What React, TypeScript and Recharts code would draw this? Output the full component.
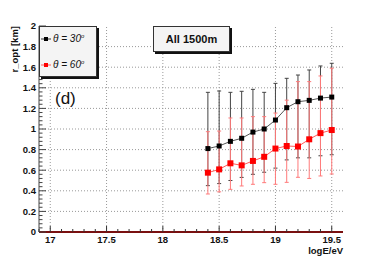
import { ComposedChart, Line, XAxis, YAxis, ErrorBar, ReferenceLine } from 'recharts'

const logE = [18.4, 18.5, 18.6, 18.7, 18.8, 18.9, 19.0, 19.1, 19.2, 19.3, 19.4, 19.5]
const r30 = [0.81, 0.835, 0.88, 0.91, 0.97, 1.0, 1.087, 1.207, 1.265, 1.278, 1.3, 1.31]
const r30Hi = [1.356, 1.369, 1.356, 1.366, 1.385, 1.356, 1.443, 1.492, 1.524, 1.573, 1.612, 1.638]
const r30Lo = [0.45, 0.47, 0.5, 0.53, 0.56, 0.58, 0.62, 0.7, 0.72, 0.72, 0.74, 0.75]
const r60 = [0.576, 0.608, 0.667, 0.647, 0.69, 0.73, 0.81, 0.835, 0.83, 0.9, 0.96, 0.99]
const r60Hi = [0.974, 0.98, 1.107, 1.107, 1.12, 1.12, 1.155, 1.28, 1.46, 1.46, 1.515, 1.59]
const r60Lo = [0.369, 0.39, 0.414, 0.447, 0.463, 0.479, 0.463, 0.482, 0.531, 0.52, 0.544, 0.563]

const xMajor = [17, 17.5, 18, 18.5, 19, 19.5]
const yMajor = [0, 0.2, 0.4, 0.6, 0.8, 1, 1.2, 1.4, 1.6, 1.8, 2]

// minor ticks: 5 per x major step, 5 per y major step
const xTicks: number[] = []
for (let i = 0; i <= 26; i++) xTicks.push(+(16.9 + i * 0.1).toFixed(2))
const yTicks: number[] = []
for (let i = 0; i <= 50; i++) yTicks.push(+(i * 0.04).toFixed(2))

const data = logE.map((x, i) => ({
  x,
  r30: r30[i],
  r60: r60[i],
  err30: [r30[i] - r30Lo[i], r30Hi[i] - r30[i]],
  err60: [r60[i] - r60Lo[i], r60Hi[i] - r60[i]],
}))

const FONT = '"Liberation Sans", Arial, sans-serif'
const MARGIN = 5

function XTick(props: any) {
  const { x, y, payload } = props
  const v = payload.value
  const major = xMajor.some((m) => Math.abs(m - v) < 1e-6)
  const ay = y - MARGIN
  return (
    <g>
      <line x1={x} x2={x} y1={ay} y2={ay - (major ? 6 : 3)} stroke="#333" />
      {major && (
        <text x={x} y={y} dy="0.6em" textAnchor="middle" fontSize={9.5} fontWeight="bold" fontFamily={FONT} fill="#111">
          {v}
        </text>
      )}
    </g>
  )
}

function YTick(props: any) {
  const { x, y, payload } = props
  const v = payload.value
  const major = yMajor.some((m) => Math.abs(m - v) < 1e-6)
  const ax = x + 3
  return (
    <g>
      <line x1={ax} x2={ax + (major ? 7 : 3.5)} y1={y} y2={y} stroke="#444" />
      {major && (
        <text x={x} y={y} dy="0.35em" textAnchor="end" fontSize={9.5} fontWeight="bold" fontFamily={FONT} fill="#111">
          {v}
        </text>
      )}
    </g>
  )
}

const square = (size: number, fill: string) => (p: any) =>
  <rect key={p.index} x={p.cx - size / 2} y={p.cy - size / 2} width={size} height={size} fill={fill} />

export default function App() {
  return (
    <div style={{ position: 'absolute', left: 0, top: 0, width: 382, height: 259, background: '#fff', fontFamily: FONT }}>
      <ComposedChart width={382} height={259} data={data} margin={{ top: 26, right: 39, bottom: 0, left: 0 }}>
        <XAxis
          dataKey="x"
          type="number"
          domain={[16.9, 19.6]}
          ticks={xTicks}
          interval={0}
          tickSize={0}
          tickMargin={MARGIN}
          tick={<XTick />}
          height={27}
          axisLine={{ stroke: '#7a1010', strokeWidth: 2 }}
          allowDataOverflow
        />
        <XAxis xAxisId="top" orientation="top" type="number" domain={[16.9, 19.6]} height={0} tick={false} tickLine={false} axisLine={{ stroke: '#999' }} />
        <YAxis
          type="number"
          domain={[0, 2]}
          ticks={yTicks}
          interval={0}
          tickSize={0}
          tickMargin={3}
          tick={<YTick />}
          width={39}
          axisLine={{ stroke: '#444' }}
        />
        <YAxis yAxisId="right" orientation="right" domain={[0, 2]} width={0} tick={false} tickLine={false} axisLine={{ stroke: '#7a1010', strokeWidth: 2 }} />
        {xMajor.map((v) => (
          <ReferenceLine key={'gx' + v} x={v} stroke="#999" strokeDasharray="1 2" />
        ))}
        {yMajor.slice(1, -1).map((v) => (
          <ReferenceLine key={'gy' + v} y={v} stroke="#999" strokeDasharray="1 2" />
        ))}
        <Line dataKey="r30" stroke="#555" strokeWidth={1} dot={square(5, '#000')} isAnimationActive={false}>
          <ErrorBar dataKey="err30" direction="y" width={2} stroke="#444" strokeWidth={1} />
        </Line>
        <Line dataKey="r60" stroke="#ff5a5a" strokeWidth={1} dot={square(6, '#ff0000')} isAnimationActive={false}>
          <ErrorBar dataKey="err60" direction="y" width={2} stroke="#ff7a7a" strokeWidth={1} />
        </Line>
      </ComposedChart>

      {/* legend */}
      <div
        style={{
          position: 'absolute', left: 39, top: 26, width: 58, height: 51, boxSizing: 'border-box',
          background: '#f4f4f4', border: '1px solid #333', boxShadow: '2px 2px 0 #111',
        }}
      >
        {[
          { c: '#000', lc: '#333', t: '30', top: 6 },
          { c: '#ff0000', lc: '#ff5a5a', t: '60', top: 32 },
        ].map((e) => (
          <div key={e.t} style={{ position: 'absolute', left: 0, top: e.top, height: 12, display: 'flex', alignItems: 'center' }}>
            <svg width={12} height={12}>
              <line x1={1} x2={11} y1={6} y2={6} stroke={e.lc} />
              <rect x={4} y={4} width={4} height={4} fill={e.c} />
            </svg>
            <span style={{ fontSize: 10, fontStyle: 'italic', color: '#111', whiteSpace: 'nowrap', marginLeft: 1 }}>
              θ = {e.t}<sup style={{ fontSize: 6 }}>o</sup>
            </span>
          </div>
        ))}
      </div>

      <div
        style={{
          position: 'absolute', left: 153, top: 26, width: 77, height: 26, boxSizing: 'border-box',
          background: '#f4f4f4', border: '1px solid #333', boxShadow: '2px 2px 0 #111',
          display: 'flex', alignItems: 'center', justifyContent: 'center', fontSize: 11, fontWeight: 'bold', color: '#111',
        }}
      >
        All 1500m
      </div>

      <div style={{ position: 'absolute', left: 55, top: 89, fontSize: 17, color: '#111' }}>(d)</div>

      <div
        style={{
          position: 'absolute', left: 14, top: 26, transformOrigin: '0 0', transform: 'rotate(-90deg) translate(-100%, -50%)',
          fontSize: 9.5, fontWeight: 'bold', color: '#111', whiteSpace: 'nowrap',
        }}
      >
        r_opt [km]
      </div>

      <div style={{ position: 'absolute', right: 39, top: 246, fontSize: 9.5, lineHeight: 1, fontWeight: 'bold', color: '#111' }}>logE/eV</div>
    </div>
  )
}
